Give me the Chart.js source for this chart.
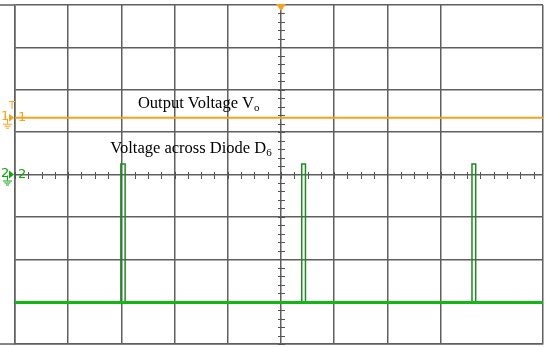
<!DOCTYPE html>
<html>
<head>
<meta charset="utf-8">
<script src="https://cdn.jsdelivr.net/npm/chart.js@4"></script>
<style>
html,body{margin:0;padding:0;background:#fff;}
#c{display:block;}
</style>
</head>
<body>
<canvas id="c" width="547" height="347"></canvas>
<script>
// Divisions: x 0..~9.93 (screen clipped at right), y -4..4 (center 0)
const outputX = [0, 10];
const outputY = [1.34, 1.34];
const baselineX = [0, 10];
const baselineY = [-3.02, -3.02];
const pulseX = [1.9, 1.99, 1.99, 2.07, 2.07, 2.2, null, 5.3, 5.39, 5.39, 5.46, 5.46, 5.55, null, 8.5, 8.59, 8.59, 8.66, 8.66, 8.75];
const pulseY = [-3.02, -3.02, 0.25, 0.25, -3.02, -3.02, null, -3.02, -3.02, 0.25, 0.25, -3.02, -3.02, null, -3.02, -3.02, 0.25, 0.25, -3.02, -3.02];
const labels = [
  {main: 'Output Voltage V', sub: 'o', x: 2.31, y: 1.57},
  {main: 'Voltage across Diode D', sub: '6', x: 1.79, y: 0.507}
];
const ORANGE = '#f7a21b';
const GREEN = '#0aa80a';
const GRID = '#5f5f5f';

function pts(xs, ys){ return xs.map((x,i)=> x===null ? {x:NaN,y:NaN} : {x:x, y:ys[i]}); }

const decor = {
  id: 'decor',
  beforeDatasetsDraw(chart){
    const ctx = chart.ctx, xs = chart.scales.x, ys = chart.scales.y, ca = chart.chartArea;
    const cx = Math.round(xs.getPixelForValue(5)), cy = Math.round(ys.getPixelForValue(0));
    ctx.save();
    ctx.strokeStyle = GRID; ctx.lineWidth = 1.5;
    ctx.beginPath();
    ctx.moveTo(0, ca.top); ctx.lineTo(ca.left, ca.top);
    ctx.moveTo(0, ca.bottom); ctx.lineTo(ca.left, ca.bottom);
    ctx.stroke();
    ctx.strokeStyle = '#555'; ctx.lineWidth = 1;
    for (let v = 0; v <= xs.max + 0.001; v += 0.25) {
      const px = Math.round(xs.getPixelForValue(v)) + 0.5;
      ctx.beginPath(); ctx.moveTo(px, cy - 3); ctx.lineTo(px, cy + 4); ctx.stroke();
    }
    for (let v = -4; v <= 4.001; v += 0.2) {
      const py = Math.round(ys.getPixelForValue(v)) + 0.5;
      ctx.beginPath(); ctx.moveTo(cx - 3, py); ctx.lineTo(cx + 4, py); ctx.stroke();
    }
    ctx.restore();
  },
  afterDatasetsDraw(chart){
    const ctx = chart.ctx, xs = chart.scales.x, ys = chart.scales.y;
    const cx = xs.getPixelForValue(5);
    ctx.save();
    ctx.fillStyle = ORANGE;
    const ty = chart.chartArea.top;
    ctx.beginPath(); ctx.moveTo(cx - 5, ty - 1); ctx.lineTo(cx + 5, ty - 1); ctx.lineTo(cx, ty + 6); ctx.closePath(); ctx.fill();
    ctx.fillStyle = '#000';
    ctx.textBaseline = 'alphabetic';
    labels.forEach(l => {
      const lx = xs.getPixelForValue(l.x), ly = ys.getPixelForValue(l.y);
      ctx.font = "16.5px 'Liberation Serif'";
      ctx.fillText(l.main, lx, ly);
      const w = ctx.measureText(l.main).width;
      ctx.font = "11px 'Liberation Serif'";
      ctx.fillText(l.sub, lx + w, ly + 3);
    });
    const drawMarker = (val, txt, col, withT) => {
      const py = ys.getPixelForValue(val);
      ctx.fillStyle = col; ctx.strokeStyle = col; ctx.lineWidth = 1;
      ctx.font = "13px 'DejaVu Sans'";
      ctx.textBaseline = 'middle';
      ctx.fillText(txt, 1, py - 1);
      ctx.beginPath(); ctx.moveTo(9, py - 4); ctx.lineTo(14, py); ctx.lineTo(9, py + 4); ctx.closePath(); ctx.fill();
      ctx.fillText(txt, 18, py);
      ctx.beginPath();
      ctx.moveTo(7.5, py + 1); ctx.lineTo(7.5, py + 6);
      ctx.moveTo(3, py + 6.5); ctx.lineTo(12, py + 6.5);
      ctx.moveTo(4.5, py + 8.5); ctx.lineTo(10.5, py + 8.5);
      ctx.moveTo(6, py + 10.5); ctx.lineTo(9, py + 10.5);
      ctx.stroke();
      if (withT) {
        ctx.font = "10px 'DejaVu Sans'";
        ctx.fillText('T', 9, py - 11);
      }
    };
    drawMarker(outputY[0], '1', ORANGE, true);
    drawMarker(0, '2', GREEN, false);
    ctx.restore();
  }
};

new Chart(document.getElementById('c'), {
  type: 'scatter',
  data: {
    datasets: [
      {data: pts(outputX, outputY), showLine: true, borderColor: ORANGE, borderWidth: 2, pointRadius: 0, tension: 0},
      {data: pts(baselineX, baselineY), showLine: true, borderColor: '#12b812', borderWidth: 3, pointRadius: 0, tension: 0},
      {data: pts(pulseX, pulseY), showLine: true, spanGaps: false, borderColor: '#1f8a1f', borderWidth: 1.5, pointRadius: 0, tension: 0}
    ]
  },
  options: {
    responsive: false,
    devicePixelRatio: 1,
    animation: false,
    layout: {padding: {left: 15, top: 5, right: 4, bottom: 3}},
    plugins: {legend: {display: false}, tooltip: {enabled: false}},
    scales: {
      x: {type: 'linear', min: 0, max: 9.925,
          ticks: {display: false, stepSize: 1},
          grid: {color: GRID, lineWidth: 1.5, drawTicks: false},
          border: {display: true, color: GRID, width: 1.5}},
      y: {type: 'linear', min: -4, max: 4,
          ticks: {display: false, stepSize: 1},
          grid: {color: GRID, lineWidth: 1.5, drawTicks: false},
          border: {display: true, color: GRID, width: 1.5}}
    }
  },
  plugins: [decor]
});
</script>
</body>
</html>
